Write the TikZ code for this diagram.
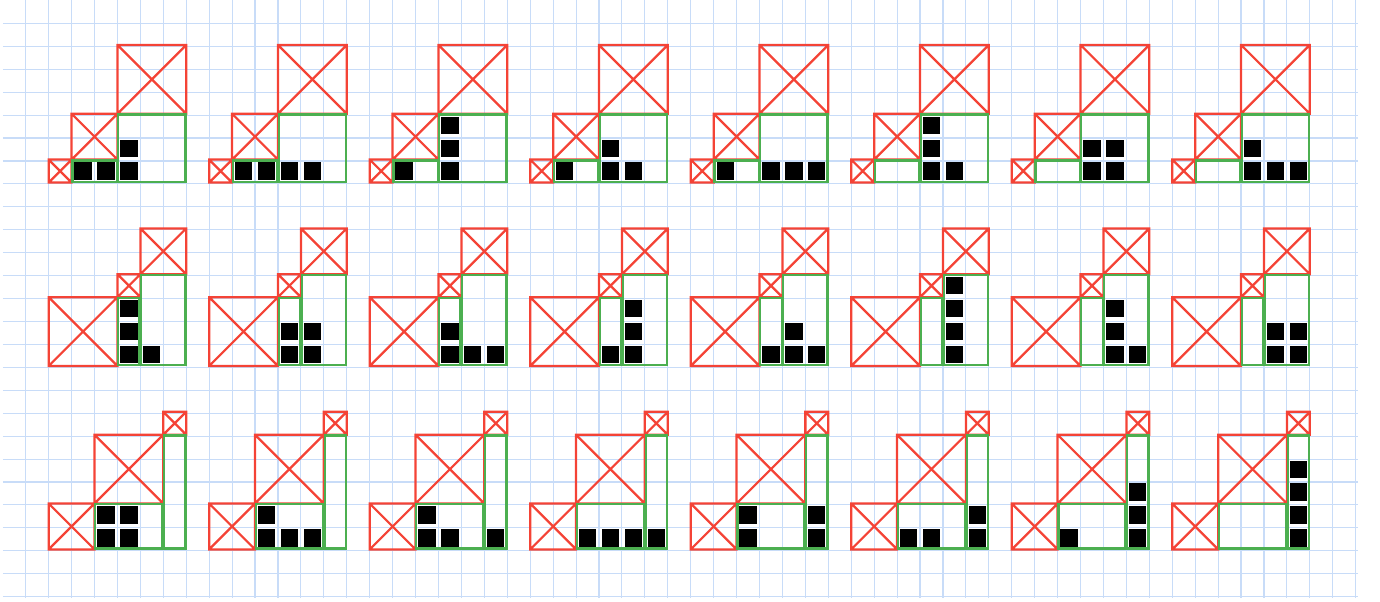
\documentclass[tikz,border=0pt]{standalone}
\usepackage{tikz}

\definecolor{gridblue}{RGB}{200,220,248}
\definecolor{boxred}{RGB}{244,67,54}
\definecolor{boxgreen}{RGB}{76,175,80}

\tikzset{
  gridline/.style={draw=gridblue, line width=0.7pt},
  redbox/.style={draw=boxred, line width=1.4pt},
  greenbox/.style={draw=boxgreen, line width=1.4pt},
  block/.style={fill=black},
}

% crossed red square: lower left corner (#1,#2), side #3
\newcommand{\crossbox}[3]{%
  \draw[redbox] (#1,#2) rectangle ++(#3,#3)
    (#1,#2) -- ++(#3,#3)
    (#1+#3,#2) -- ++(-#3,#3);}

% green frame from (#1,#2) to (#3,#4), set a little inside
\newcommand{\greenframe}[4]{%
  \draw[greenbox] (#1+0.035,#2+0.035) rectangle (#3-0.035,#4-0.035);}

% black block in the cell with lower left corner (#1,#2)
\newcommand{\cellblock}[2]{%
  \fill[block] (#1+0.125,#2+0.125) rectangle ++(0.75,0.75);}

\begin{document}
\begin{tikzpicture}[scale=0.5]
  \useasboundingbox (-0.122,-0.231) rectangle (60.06,26.02);

  % squared paper
  \foreach \k in {1,...,59}
    \draw[gridline] (\k,-0.05) -- (\k,26.02);
  \foreach \k in {0,...,25}
    \draw[gridline] (0,\k) -- (59.08,\k);

  % first row: 1, 2, 3 going up
  \foreach \blocks [count=\i from 0] in {
      {1/0,2/0,3/0,3/1},
      {1/0,2/0,3/0,4/0},
      {1/0,3/0,3/1,3/2},
      {1/0,3/0,3/1,4/0},
      {1/0,3/0,4/0,5/0},
      {3/0,3/1,3/2,4/0},
      {3/0,3/1,4/0,4/1},
      {3/0,3/1,4/0,5/0}} {
    \begin{scope}[shift={(2+7*\i,18.06)}]
      \crossbox{0}{0}{1}
      \crossbox{1}{1}{2}
      \crossbox{3}{3}{3}
      \greenframe{1}{0}{3}{1}
      \greenframe{3}{0}{6}{3}
      \foreach \x/\y in \blocks {\cellblock{\x}{\y}}
    \end{scope}
  }

  % second row: 3, 1, 2
  \foreach \blocks [count=\i from 0] in {
      {3/0,3/1,3/2,4/0},
      {3/0,3/1,4/0,4/1},
      {3/0,3/1,4/0,5/0},
      {3/0,4/0,4/1,4/2},
      {3/0,4/0,4/1,5/0},
      {4/0,4/1,4/2,4/3},
      {4/0,4/1,4/2,5/0},
      {4/0,4/1,5/0,5/1}} {
    \begin{scope}[shift={(2+7*\i,10.06)}]
      \crossbox{0}{0}{3}
      \crossbox{3}{3}{1}
      \crossbox{4}{4}{2}
      \greenframe{3}{0}{4}{3}
      \greenframe{4}{0}{6}{4}
      \foreach \x/\y in \blocks {\cellblock{\x}{\y}}
    \end{scope}
  }

  % third row: 2, 3, 1
  \foreach \blocks [count=\i from 0] in {
      {2/0,3/0,2/1,3/1},
      {2/0,3/0,4/0,2/1},
      {2/0,3/0,2/1,5/0},
      {2/0,3/0,4/0,5/0},
      {2/0,2/1,5/0,5/1},
      {2/0,3/0,5/0,5/1},
      {2/0,5/0,5/1,5/2},
      {5/0,5/1,5/2,5/3}} {
    \begin{scope}[shift={(2+7*\i,2.06)}]
      \crossbox{0}{0}{2}
      \crossbox{2}{2}{3}
      \crossbox{5}{5}{1}
      \greenframe{2}{0}{5}{2}
      \greenframe{5}{0}{6}{5}
      \foreach \x/\y in \blocks {\cellblock{\x}{\y}}
    \end{scope}
  }
\end{tikzpicture}
\end{document}
